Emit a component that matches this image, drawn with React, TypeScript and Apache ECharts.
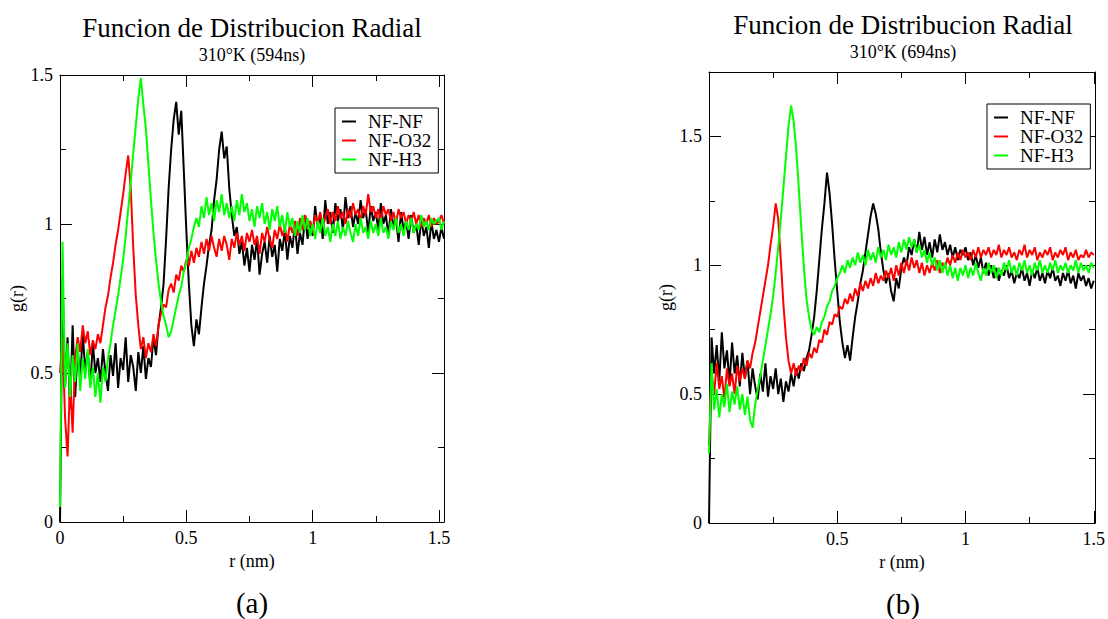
import React, { useEffect, useRef } from 'react';
import * as echarts from 'echarts';

// sampling step of r (nm) for all series
const R_STEP = 0.01;

// Panel (a): 310°K (594ns), r = 0.00 .. 1.52
const A_NF_NF = [
  0.00, 0.82, 0.45, 0.62, 0.38, 0.66, 0.42, 0.58, 0.48, 0.63,
  0.51, 0.57, 0.46, 0.60, 0.50, 0.55, 0.47, 0.58, 0.50, 0.44,
  0.56, 0.49, 0.60, 0.45, 0.55, 0.51, 0.62, 0.47, 0.56, 0.52,
  0.44, 0.57, 0.50, 0.59, 0.48, 0.55, 0.52, 0.62, 0.56, 0.66,
  0.72, 0.80, 0.95, 1.12, 1.25, 1.35, 1.41, 1.30, 1.38, 1.18,
  0.98, 0.80, 0.66, 0.59, 0.68, 0.63, 0.72, 0.80, 0.86, 0.93,
  0.98, 1.08, 1.15, 1.25, 1.31, 1.22, 1.26, 1.12, 1.03, 0.96,
  0.99, 0.90, 0.94, 0.86, 0.92, 0.84, 0.93, 0.88, 0.95, 0.83,
  0.90, 0.94, 0.87, 0.96, 0.89, 0.93, 0.84, 0.95, 0.91, 0.98,
  0.88, 0.96, 0.92, 1.00, 0.90, 0.97, 0.93, 1.03, 0.95, 1.01,
  0.96, 1.06, 0.99, 1.03, 0.95, 1.08, 1.00, 1.04, 0.97, 1.07,
  1.01, 1.05, 0.98, 1.09, 1.02, 1.06, 0.99, 1.04, 1.00, 1.08,
  1.02, 1.05, 0.97, 1.06, 1.01, 1.04, 0.98, 1.07, 1.00, 1.03,
  0.96, 1.05, 0.99, 1.02, 0.94, 1.04, 0.98, 1.01, 0.95, 1.03,
  0.97, 1.00, 0.93, 1.02, 0.96, 0.99, 0.92, 1.01, 0.95, 0.98,
  0.94, 0.99, 0.95,
];
const A_NF_O32 = [
  0.50, 0.62, 0.35, 0.22, 0.48, 0.30, 0.55, 0.62, 0.57, 0.66,
  0.60, 0.64, 0.56, 0.61, 0.58, 0.63, 0.60, 0.66, 0.72, 0.76,
  0.82, 0.87, 0.93, 0.98, 1.04, 1.10, 1.17, 1.23, 1.12, 0.92,
  0.76, 0.66, 0.58, 0.62, 0.55, 0.60, 0.57, 0.63, 0.59, 0.66,
  0.70, 0.73, 0.72, 0.78, 0.80, 0.77, 0.83, 0.81, 0.86, 0.84,
  0.88, 0.86, 0.91, 0.87, 0.92, 0.89, 0.94, 0.90, 0.95, 0.91,
  0.96, 0.92, 0.89, 0.95, 0.91, 0.96, 0.93, 0.88, 0.95, 0.92,
  0.97, 0.93, 0.96, 0.91, 0.97, 0.94, 0.98, 0.93, 0.96, 0.90,
  0.97, 0.94, 0.99, 0.95, 0.92, 0.98, 0.95, 1.00, 0.96, 0.99,
  0.94, 1.00, 0.97, 1.01, 0.96, 1.02, 0.98, 1.03, 0.99, 1.01,
  0.97, 1.03, 1.00, 1.04, 0.99, 1.02, 1.05, 1.00, 1.04, 1.01,
  1.06, 1.02, 1.04, 1.00, 1.05, 1.02, 1.07, 1.03, 1.05, 1.01,
  1.06, 1.03, 1.10, 1.04, 1.06, 1.02, 1.05, 1.01, 1.06, 1.03,
  1.05, 1.01, 1.04, 1.00, 1.05, 1.02, 1.04, 1.00, 1.03, 1.01,
  1.04, 1.00, 1.03, 0.99, 1.02, 1.00, 1.03, 0.99, 1.02, 1.00,
  1.01, 1.03, 1.00,
];
const A_NF_H3 = [
  0.05, 0.94, 0.45, 0.60, 0.42, 0.56, 0.47, 0.60, 0.44, 0.55,
  0.48, 0.58, 0.45, 0.52, 0.42, 0.50, 0.40, 0.52, 0.47, 0.55,
  0.60, 0.66, 0.71, 0.76, 0.82, 0.88, 0.96, 1.05, 1.14, 1.24,
  1.33, 1.42, 1.49, 1.40, 1.32, 1.20, 1.08, 0.97, 0.88, 0.80,
  0.74, 0.69, 0.66, 0.62, 0.64, 0.68, 0.72, 0.76, 0.79, 0.84,
  0.87, 0.92, 0.95, 0.99, 1.02, 0.99, 1.06, 1.02, 1.09, 1.03,
  1.07, 1.01, 1.08, 1.04, 1.10, 1.03, 1.07, 1.02, 1.06, 1.01,
  1.08, 1.03, 1.10, 1.04, 1.07, 1.01, 1.05, 0.99, 1.06, 1.02,
  1.07, 1.00, 1.04, 0.98, 1.05, 1.01, 1.06, 0.99, 1.03, 0.97,
  1.04, 0.99, 1.02, 0.96, 1.01, 0.97, 1.03, 0.98, 1.02, 0.96,
  1.00, 0.95, 1.01, 0.97, 1.02, 0.96, 0.99, 0.94, 1.00, 0.96,
  1.01, 0.95, 0.99, 0.96, 1.01, 0.97, 0.94, 1.00, 0.96, 1.02,
  0.97, 0.99, 0.95, 1.01, 0.97, 1.00, 0.96, 1.02, 0.97, 0.99,
  0.95, 1.01, 0.98, 1.02, 0.97, 1.00, 0.96, 1.01, 0.98, 1.02,
  0.97, 1.00, 0.98, 1.03, 0.99, 1.01, 0.98, 1.02, 1.00, 1.01,
  1.02, 0.98, 1.01,
];

// Panel (b): 310°K (694ns), r = 0.00 .. 1.50
const B_NF_NF = [
  0.00, 0.72, 0.58, 0.69, 0.55, 0.74, 0.60, 0.67, 0.54, 0.70,
  0.58, 0.65, 0.53, 0.66, 0.56, 0.63, 0.50, 0.60, 0.53, 0.48,
  0.58, 0.51, 0.62, 0.49, 0.57, 0.52, 0.60, 0.50, 0.56, 0.47,
  0.55, 0.51, 0.58, 0.53, 0.60, 0.56, 0.62, 0.59, 0.64, 0.67,
  0.73, 0.80, 0.90, 1.02, 1.14, 1.24, 1.36, 1.28, 1.16, 1.02,
  0.90, 0.78, 0.70, 0.64, 0.69, 0.63, 0.72, 0.80, 0.86, 0.93,
  0.98, 1.05, 1.12, 1.19, 1.24, 1.20, 1.14, 1.05, 0.98, 0.93,
  0.97, 0.90, 0.86, 0.95, 0.91, 0.99, 1.03, 1.00, 1.07, 1.04,
  1.10, 1.05, 1.13, 1.06, 1.11, 1.04, 1.09, 1.03, 1.10, 1.05,
  1.12, 1.06, 1.09, 1.04, 1.08, 1.03, 1.07, 1.02, 1.06, 1.04,
  1.07, 1.02, 1.05, 1.00, 1.04, 0.99, 1.03, 0.97, 1.01, 0.96,
  1.00, 0.95, 0.99, 0.94, 0.98, 0.96, 1.00, 0.95, 0.98, 0.93,
  0.97, 0.95, 0.99, 0.94, 0.97, 0.92, 0.98, 0.95, 0.99, 0.94,
  0.97, 0.93, 0.98, 0.95, 0.99, 0.94, 0.96, 0.92, 0.97, 0.94,
  0.98, 0.93, 0.96, 0.91, 0.97, 0.94, 0.96, 0.92, 0.95, 0.91,
  0.94,
];
const B_NF_O32 = [
  0.30, 0.58, 0.50, 0.62, 0.52, 0.57, 0.48, 0.60, 0.53, 0.58,
  0.50, 0.61, 0.55, 0.60, 0.56, 0.63, 0.60, 0.66, 0.70, 0.76,
  0.82, 0.88, 0.94, 1.00, 1.08, 1.15, 1.24, 1.18, 1.02, 0.85,
  0.72, 0.63, 0.58, 0.62, 0.57, 0.61, 0.59, 0.64, 0.61, 0.66,
  0.64, 0.68, 0.66, 0.71, 0.70, 0.75, 0.73, 0.78, 0.77, 0.81,
  0.80, 0.84, 0.83, 0.87, 0.85, 0.89, 0.86, 0.91, 0.88, 0.93,
  0.90, 0.94, 0.91, 0.95, 0.92, 0.97, 0.93, 0.96, 0.94, 0.98,
  0.95, 0.99, 0.94, 1.00, 0.96, 1.01, 0.97, 1.02, 0.98, 1.03,
  0.99, 1.02, 0.97, 1.01, 0.96, 1.00, 0.97, 1.01, 0.98, 1.02,
  0.97, 1.01, 0.99, 1.03, 1.00, 1.04, 1.01, 1.05, 1.02, 1.06,
  1.03, 1.05, 1.02, 1.06, 1.03, 1.07, 1.03, 1.06, 1.04, 1.07,
  1.03, 1.06, 1.04, 1.08, 1.03, 1.06, 1.04, 1.07, 1.03, 1.05,
  1.02, 1.06, 1.04, 1.08, 1.03, 1.06, 1.04, 1.07, 1.02, 1.05,
  1.03, 1.06, 1.04, 1.07, 1.02, 1.05, 1.03, 1.06, 1.04, 1.07,
  1.02, 1.05, 1.03, 1.06, 1.02, 1.04, 1.03, 1.06, 1.03, 1.05,
  1.04,
];
const B_NF_H3 = [
  0.27, 0.62, 0.44, 0.52, 0.41, 0.50, 0.45, 0.54, 0.43, 0.51,
  0.46, 0.53, 0.44, 0.50, 0.42, 0.49, 0.40, 0.37, 0.46, 0.52,
  0.57, 0.63, 0.69, 0.75, 0.81, 0.88, 0.97, 1.07, 1.18, 1.30,
  1.42, 1.54, 1.62, 1.56, 1.45, 1.30, 1.14, 0.99, 0.87, 0.80,
  0.75, 0.73, 0.76, 0.74, 0.78, 0.80, 0.84, 0.86, 0.90, 0.92,
  0.95, 0.97, 1.00, 0.97, 1.02, 0.99, 1.03, 1.00, 1.05, 1.01,
  1.04, 1.00, 1.06, 1.02, 1.05, 1.01, 1.07, 1.03, 1.06, 1.02,
  1.08, 1.04, 1.07, 1.03, 1.09, 1.05, 1.10, 1.06, 1.11, 1.07,
  1.10, 1.05, 1.08, 1.03, 1.06, 1.01, 1.05, 1.00, 1.03, 0.98,
  1.02, 0.97, 1.01, 0.96, 1.00, 0.95, 0.99, 0.94, 0.99, 0.96,
  1.00, 0.95, 0.99, 0.96, 1.01, 0.97, 0.94, 0.99, 0.96, 1.01,
  0.97, 1.00, 0.95, 0.99, 0.96, 1.01, 0.98, 1.02, 0.97, 1.00,
  0.96, 1.01, 0.98, 1.02, 0.97, 1.00, 0.96, 1.01, 0.98, 1.02,
  0.97, 1.00, 0.97, 1.01, 0.98, 1.02, 0.97, 1.00, 0.98, 1.01,
  0.97, 1.00, 0.98, 1.02, 0.97, 1.01, 0.98, 1.00, 0.97, 1.01,
  0.99,
];

const SERIES_NAMES = ['NF-NF', 'NF-O32', 'NF-H3'];
const SERIES_COLORS = ['#000000', '#ff0000', '#00ff00'];
const MAIN_TITLE = 'Funcion de Distribucion Radial';
const SUBTITLES = ['310°K (594ns)', '310°K (694ns)'];
const PANEL_TAGS = ['(a)', '(b)'];
const X_NAME = 'r (nm)';
const Y_NAME = 'g(r)';
const MAJOR_STEP = 0.5;
const MINOR_STEP = 0.25;

const SERIF = '"Liberation Serif", "DejaVu Serif", serif';

const PANELS = [
  {
    data: [A_NF_NF, A_NF_O32, A_NF_H3],
    grid: { left: 60, top: 75, width: 384, height: 447 },
    xMax: 1.52, yMax: 1.5, hideXZero: false,
    legend: { left: 335, top: 108 },
    cx: 252, titleY: 28, subY: 55, tagY: 603,
  },
  {
    data: [B_NF_NF, B_NF_O32, B_NF_H3],
    grid: { left: 709, top: 72, width: 388, height: 451 },
    xMax: 1.505, yMax: 1.75, hideXZero: true,
    legend: { left: 987, top: 104 },
    cx: 903, titleY: 25, subY: 52, tagY: 604,
  },
];

function toPairs(vals: number[]) {
  return vals.map((v, i) => [Number((i * R_STEP).toFixed(2)), v]);
}

function labelFmt(hideZero: boolean) {
  return (v: number) => {
    const k = v / MAJOR_STEP;
    if (Math.abs(k - Math.round(k)) > 1e-6) return '';
    if (hideZero && Math.abs(v) < 1e-9) return '';
    return String(Number(v.toFixed(2)));
  };
}

function buildAxes(dim: 'x' | 'y', gridIndex: number, max: number, hideZero: boolean) {
  const sides = dim === 'x' ? ['bottom', 'top'] : ['left', 'right'];
  const axes: any[] = [];
  sides.forEach((pos, si) => {
    axes.push({
      type: 'value', gridIndex, position: pos, min: 0, max, interval: MAJOR_STEP,
      axisLine: { show: true, onZero: false, lineStyle: { color: '#000', width: 1 } },
      axisTick: { show: true, inside: true, length: 12, lineStyle: { color: '#000', width: 1 } },
      axisLabel: {
        show: si === 0, margin: 7, fontSize: 18, fontFamily: SERIF, color: '#000',
        formatter: labelFmt(hideZero), showMaxLabel: true,
      },
      splitLine: { show: false },
      ...(si === 0
        ? {
            name: dim === 'x' ? X_NAME : Y_NAME,
            nameLocation: 'middle',
            nameGap: dim === 'x' ? 25 : 34,
            nameTextStyle: { fontSize: 18, fontFamily: SERIF, color: '#000' },
          }
        : {}),
    });
    axes.push({
      type: 'value', gridIndex, position: pos, min: 0, max, interval: MINOR_STEP,
      axisLine: { show: false, onZero: false },
      axisTick: { show: true, inside: true, length: 6, lineStyle: { color: '#000', width: 1 } },
      axisLabel: { show: false },
      splitLine: { show: false },
    });
  });
  return axes;
}

export default function App() {
  const ref = useRef<HTMLDivElement>(null);
  useEffect(() => {
    if (!ref.current) return;
    const chart = echarts.init(ref.current, undefined, { renderer: 'svg' });

    const grids: any[] = [];
    const xAxes: any[] = [];
    const yAxes: any[] = [];
    const series: any[] = [];
    const legends: any[] = [];
    const graphics: any[] = [];

    PANELS.forEach((p, gi) => {
      grids.push({ ...p.grid, containLabel: false });
      const xBase = xAxes.length;
      const yBase = yAxes.length;
      xAxes.push(...buildAxes('x', gi, p.xMax, p.hideXZero));
      yAxes.push(...buildAxes('y', gi, p.yMax, false));
      p.data.forEach((vals, si) => {
        series.push({
          type: 'line',
          name: SERIES_NAMES[si],
          xAxisIndex: xBase,
          yAxisIndex: yBase,
          data: toPairs(vals),
          showSymbol: false,
          symbol: 'none',
          lineStyle: { color: SERIES_COLORS[si], width: 2 },
          itemStyle: { color: SERIES_COLORS[si] },
          z: 2 + si,
        });
      });
      legends.push({
        data: SERIES_NAMES,
        orient: 'vertical',
        left: p.legend.left,
        top: p.legend.top,
        padding: [4, 7, 4, 7],
        itemGap: 0,
        itemWidth: 14,
        itemHeight: 2,
        icon: 'rect',
        borderColor: '#000',
        borderWidth: 1,
        borderRadius: 0,
        backgroundColor: '#fff',
        selectedMode: false,
        textStyle: { fontSize: 19, fontFamily: SERIF, color: '#000', lineHeight: 18.5, padding: [0, 0, 0, 7] },
      });
      graphics.push(
        {
          type: 'text', x: p.cx, y: p.titleY,
          style: { text: MAIN_TITLE, fontSize: 27, fontFamily: SERIF, fill: '#000', align: 'center', verticalAlign: 'middle' },
        },
        {
          type: 'text', x: p.cx, y: p.subY,
          style: { text: SUBTITLES[gi], fontSize: 18, fontFamily: SERIF, fill: '#000', align: 'center', verticalAlign: 'middle' },
        },
        {
          type: 'text', x: p.cx, y: p.tagY,
          style: { text: PANEL_TAGS[gi], fontSize: 29, fontFamily: SERIF, fill: '#000', align: 'center', verticalAlign: 'middle' },
        },
      );
    });

    chart.setOption({
      animation: false,
      backgroundColor: '#ffffff',
      grid: grids,
      xAxis: xAxes,
      yAxis: yAxes,
      legend: legends,
      series,
      graphic: graphics,
    });
    return () => chart.dispose();
  }, []);

  return (
    <div
      ref={ref}
      style={{ position: 'fixed', left: 0, top: 0, width: 1108, height: 619, background: '#fff' }}
    />
  );
}
